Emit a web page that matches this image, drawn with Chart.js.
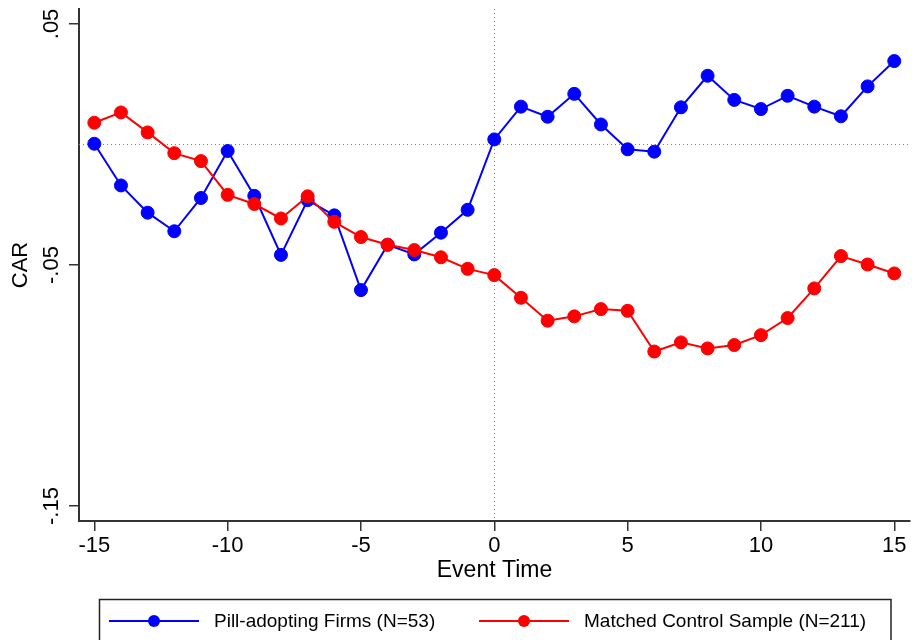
<!DOCTYPE html>
<html>
<head>
<meta charset="utf-8">
<title>CAR around event</title>
<script src="https://cdn.jsdelivr.net/npm/chart.js@4/dist/chart.umd.min.js"></script>
<style>
  html, body { margin: 0; padding: 0; background: #fff; }
  #wrap { width: 912px; height: 640px; }
</style>
</head>
<body>
<div id="wrap"><canvas id="c" width="912" height="640"></canvas></div>
<script>
// Event window (days relative to the event)
const eventTime = [-15, -14, -13, -12, -11, -10, -9, -8, -7, -6, -5, -4, -3, -2, -1,
                   0, 1, 2, 3, 4, 5, 6, 7, 8, 9, 10, 11, 12, 13, 14, 15];

// Cumulative abnormal returns, pill-adopting firms
const pillCAR = [0.0003, -0.0170, -0.0283, -0.0360, -0.0222, -0.0027, -0.0213, -0.0458,
                 -0.0231, -0.0294, -0.0604, -0.0416, -0.0456, -0.0366, -0.0271,
                 0.0021, 0.0157, 0.0115, 0.0210, 0.0083, -0.0020, -0.0030, 0.0154,
                 0.0285, 0.0185, 0.0147, 0.0202, 0.0157, 0.0117, 0.0241, 0.0346];

// Cumulative abnormal returns, matched control sample
const controlCAR = [0.0090, 0.0133, 0.0050, -0.0036, -0.0069, -0.0209, -0.0247, -0.0307,
                    -0.0215, -0.0321, -0.0384, -0.0416, -0.0438, -0.0468, -0.0516,
                    -0.0542, -0.0636, -0.0731, -0.0713, -0.0683, -0.0690, -0.0859,
                    -0.0821, -0.0846, -0.0832, -0.0791, -0.0720, -0.0597, -0.0463,
                    -0.0498, -0.0535];

const seriesLabels = ['Pill-adopting Firms (N=53)', 'Matched Control Sample (N=211)'];

const xTickValues = [-15, -10, -5, 0, 5, 10, 15];
const yTickValues = [-0.15, -0.05, 0.05];
const yTickLabels = ['-.15', '-.05', '.05'];

const FONT = "'Liberation Sans', Arial, Helvetica, sans-serif";
const AXIS_COLOR = '#333333';

const toPoints = (xs, ys) => xs.map((x, i) => ({ x: x, y: ys[i] }));

// Dotted reference lines at zero on both axes
const zeroLines = {
  id: 'zeroLines',
  beforeDatasetsDraw(chart) {
    const { ctx, chartArea: a, scales: { x, y } } = chart;
    ctx.save();
    ctx.strokeStyle = '#808080';
    ctx.lineWidth = 1;
    ctx.setLineDash([1, 3]);
    const y0 = Math.round(y.getPixelForValue(0)) + 0.5;
    ctx.beginPath();
    ctx.moveTo(a.left, y0);
    ctx.lineTo(a.right, y0);
    ctx.stroke();
    const x0 = Math.round(x.getPixelForValue(0)) + 0.5;
    ctx.beginPath();
    ctx.moveTo(x0, a.top);
    ctx.lineTo(x0, a.bottom);
    ctx.stroke();
    ctx.restore();
  }
};

// Vertical y tick labels, reading bottom to top
const yLabels = {
  id: 'yLabels',
  afterDraw(chart) {
    const { ctx, scales: { y } } = chart;
    ctx.save();
    ctx.fillStyle = '#000';
    ctx.font = '22px ' + FONT;
    ctx.textAlign = 'center';
    ctx.textBaseline = 'alphabetic';
    y.ticks.forEach((t, i) => {
      const py = y.getPixelForTick(i);
      ctx.save();
      ctx.translate(57.5, py);
      ctx.rotate(-Math.PI / 2);
      ctx.fillText(yTickLabels[yTickValues.indexOf(t.value)], 0, 0);
      ctx.restore();
    });
    ctx.restore();
  }
};

// Boxed legend below the axis title
const boxLegend = {
  id: 'boxLegend',
  afterDraw(chart) {
    const { ctx } = chart;
    ctx.save();
    ctx.strokeStyle = '#222';
    ctx.lineWidth = 1.5;
    ctx.strokeRect(99.5, 599.5, 791.5, 50);
    const slots = [{ x0: 109, x1: 199, tx: 214 }, { x0: 479, x1: 569, tx: 584 }];
    const cy = 621;
    chart.data.datasets.forEach((ds, i) => {
      const s = slots[i];
      ctx.strokeStyle = ds.borderColor;
      ctx.lineWidth = 2;
      ctx.beginPath();
      ctx.moveTo(s.x0, cy);
      ctx.lineTo(s.x1, cy);
      ctx.stroke();
      ctx.fillStyle = ds.pointBackgroundColor;
      ctx.beginPath();
      ctx.arc((s.x0 + s.x1) / 2, cy, 6, 0, Math.PI * 2);
      ctx.fill();
      ctx.fillStyle = '#000';
      ctx.font = '19px ' + FONT;
      ctx.textAlign = 'left';
      ctx.textBaseline = 'middle';
      ctx.fillText(ds.label, s.tx, cy + 1);
    });
    ctx.restore();
  }
};

new Chart(document.getElementById('c'), {
  type: 'scatter',
  data: {
    datasets: [
      {
        label: seriesLabels[0],
        data: toPoints(eventTime, pillCAR),
        showLine: true,
        borderColor: '#0000FF',
        backgroundColor: '#0000FF',
        pointBackgroundColor: '#0000FF',
        pointBorderColor: '#0000FF',
        borderWidth: 2,
        pointRadius: 6.5,
        pointBorderWidth: 1,
        pointHoverRadius: 6.5,
        order: 2
      },
      {
        label: seriesLabels[1],
        data: toPoints(eventTime, controlCAR),
        showLine: true,
        borderColor: '#FF0000',
        backgroundColor: '#FF0000',
        pointBackgroundColor: '#FF0000',
        pointBorderColor: '#FF0000',
        borderWidth: 2,
        pointRadius: 6.5,
        pointBorderWidth: 1,
        pointHoverRadius: 6.5,
        order: 1
      }
    ]
  },
  options: {
    responsive: false,
    animation: false,
    events: [],
    layout: { autoPadding: false, padding: { top: 9, right: 2, left: 0, bottom: 0 } },
    plugins: {
      legend: { display: false },
      tooltip: { enabled: false }
    },
    scales: {
      x: {
        type: 'linear',
        min: -15.574,
        max: 15.59,
        afterBuildTicks: (s) => { s.ticks = xTickValues.map(v => ({ value: v })); },
        afterFit: (s) => {
          s.height = 119;
          s.paddingLeft = 0;
          s.paddingRight = 0;
        },
        grid: {
          drawOnChartArea: false,
          drawTicks: true,
          tickLength: 10,
          color: AXIS_COLOR,
          lineWidth: 1.5
        },
        border: { display: true, color: AXIS_COLOR, width: 2 },
        ticks: {
          autoSkip: false,
          maxRotation: 0,
          padding: 2,
          color: '#000',
          font: { family: FONT, size: 22 },
          callback: (v) => String(v)
        },
        title: {
          display: true,
          text: 'Event Time',
          color: '#000',
          font: { family: FONT, size: 23 },
          padding: { top: 0, bottom: 56 }
        }
      },
      y: {
        type: 'linear',
        min: -0.1562,
        max: 0.0562,
        afterBuildTicks: (s) => { s.ticks = yTickValues.map(v => ({ value: v })); },
        afterFit: (s) => {
          s.width = 79;
          s.paddingTop = 0;
          s.paddingBottom = 0;
        },
        grid: {
          drawOnChartArea: false,
          drawTicks: true,
          tickLength: 10,
          color: AXIS_COLOR,
          lineWidth: 1.5
        },
        border: { display: true, color: AXIS_COLOR, width: 2 },
        ticks: { display: false },
        title: {
          display: true,
          text: 'CAR',
          color: '#000',
          font: { family: FONT, size: 22 },
          padding: { top: 8, bottom: 0 }
        }
      }
    }
  },
  plugins: [zeroLines, yLabels, boxLegend]
});
</script>
</body>
</html>
